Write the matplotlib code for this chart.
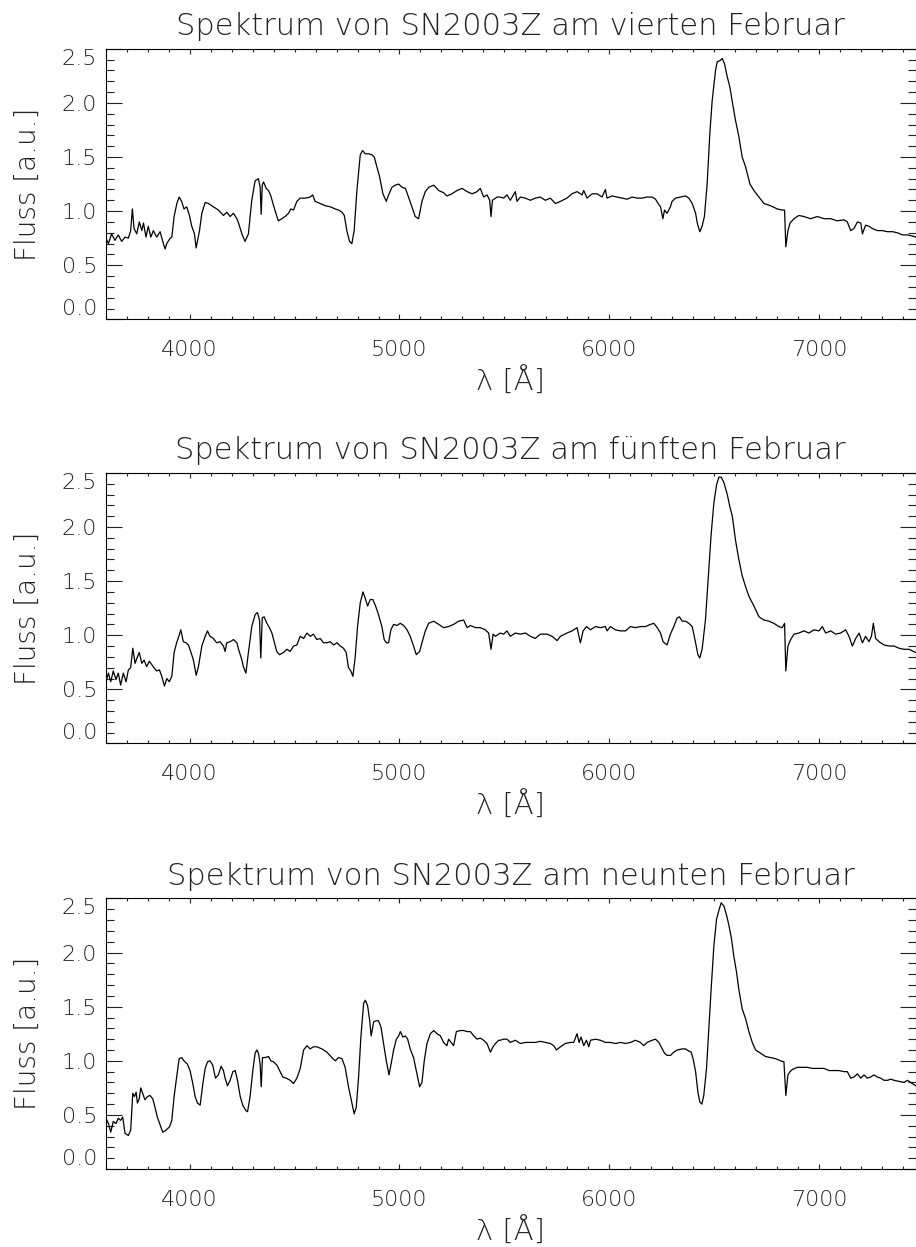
import matplotlib
matplotlib.use('Agg')
import matplotlib.pyplot as plt
from matplotlib.ticker import MultipleLocator, FixedLocator, FormatStrFormatter

plt.rcParams.update({'font.family': 'DejaVu Sans', 'font.size': 16,
                     'font.weight': 'light', 'axes.titleweight': 'light',
                     'axes.labelweight': 'light'})

# spectrum 4 Feb (wavelength in Angstrom, flux in a.u.)
wl_feb4 = [3601, 3613, 3628, 3644, 3660, 3676, 3692, 3708, 3719, 3727,
           3735, 3748, 3760, 3772, 3780, 3792, 3803, 3815, 3827, 3843,
           3859, 3872, 3883, 3891, 3907, 3915, 3926, 3939, 3950, 3962,
           3973, 3986, 3999, 4010, 4023, 4031, 4037, 4047, 4058, 4074,
           4090, 4113, 4137, 4161, 4177, 4193, 4209, 4225, 4233, 4249,
           4264, 4280, 4296, 4312, 4328, 4336, 4341, 4346, 4352, 4365,
           4376, 4387, 4400, 4416, 4423, 4439, 4455, 4471, 4482, 4495,
           4511, 4527, 4551, 4574, 4586, 4598, 4622, 4646, 4670, 4694,
           4710, 4726, 4737, 4749, 4762, 4773, 4784, 4797, 4813, 4824,
           4837, 4853, 4869, 4880, 4892, 4905, 4921, 4937, 4948, 4964,
           4980, 4996, 5012, 5028, 5043, 5059, 5075, 5091, 5107, 5123,
           5139, 5163, 5187, 5210, 5226, 5250, 5274, 5298, 5322, 5346,
           5370, 5385, 5401, 5417, 5430, 5436, 5443, 5465,
           5480, 5496, 5512, 5528, 5552, 5560, 5576, 5600, 5624, 5647,
           5671, 5695, 5719, 5743, 5767, 5798, 5822, 5846, 5870, 5878,
           5894, 5918, 5942, 5965, 5981, 5989, 6013, 6037, 6061, 6085,
           6108, 6132, 6156, 6180, 6204, 6220, 6236, 6244, 6255, 6263,
           6275, 6291, 6299, 6315, 6339, 6363, 6379, 6395, 6411, 6419,
           6431, 6442, 6453, 6466, 6479, 6490, 6506, 6514, 6527, 6538,
           6549, 6562, 6574, 6585, 6601, 6617, 6633, 6649, 6670, 6689,
           6713, 6737, 6768, 6800, 6824, 6835, 6841, 6851, 6861, 6880,
           6903, 6927, 6959, 6991, 7023, 7055, 7086, 7118, 7134, 7150,
           7166, 7182, 7198, 7206, 7221, 7237, 7253, 7277, 7301, 7325,
           7349, 7373, 7396, 7420, 7444, 7460]
fl_feb4 = [0.75, 0.70, 0.79, 0.73, 0.78, 0.72, 0.76, 0.75, 0.82, 1.02,
           0.84, 0.79, 0.90, 0.82, 0.89, 0.76, 0.86, 0.76, 0.82, 0.76,
           0.81, 0.72, 0.65, 0.70, 0.75, 0.76, 0.95, 1.07, 1.13, 1.09,
           1.02, 1.04, 0.96, 0.86, 0.79, 0.66, 0.72, 0.82, 0.98, 1.08,
           1.07, 1.04, 1.01, 0.96, 0.99, 0.95, 0.98, 0.93, 0.89, 0.79,
           0.72, 0.79, 1.10, 1.28, 1.30, 1.22, 0.97, 1.24, 1.27, 1.21,
           1.19, 1.14, 1.05, 0.95, 0.91, 0.93, 0.95, 0.98, 1.02, 1.01,
           1.09, 1.12, 1.12, 1.13, 1.15, 1.09, 1.07, 1.05, 1.04, 1.02,
           1.01, 0.99, 0.96, 0.82, 0.72, 0.70, 0.82, 1.19, 1.52, 1.56,
           1.53, 1.53, 1.52, 1.50, 1.41, 1.32, 1.16, 1.09, 1.15, 1.22,
           1.24, 1.25, 1.22, 1.21, 1.13, 1.04, 0.95, 0.93, 1.09, 1.18,
           1.22, 1.24, 1.19, 1.17, 1.14, 1.16, 1.19, 1.21, 1.18, 1.16,
           1.18, 1.21, 1.13, 1.15, 1.10, 0.95, 1.10, 1.13,
           1.13, 1.12, 1.15, 1.10, 1.18, 1.09, 1.13, 1.12, 1.10, 1.12,
           1.13, 1.10, 1.12, 1.07, 1.09, 1.12, 1.16, 1.18, 1.15, 1.19,
           1.12, 1.16, 1.16, 1.13, 1.20, 1.12, 1.14, 1.13, 1.12, 1.11,
           1.13, 1.12, 1.12, 1.13, 1.13, 1.11, 1.06, 1.04, 0.93, 1.01,
           0.98, 1.04, 1.09, 1.12, 1.13, 1.14, 1.12, 1.07, 0.98, 0.89,
           0.81, 0.86, 0.95, 1.25, 1.72, 2.02, 2.30, 2.38, 2.39, 2.41,
           2.36, 2.24, 2.15, 2.02, 1.84, 1.69, 1.50, 1.41, 1.25, 1.19,
           1.13, 1.07, 1.05, 1.02, 1.01, 1.01, 0.67, 0.82, 0.89, 0.93,
           0.96, 0.95, 0.93, 0.95, 0.93, 0.93, 0.91, 0.92, 0.90, 0.82,
           0.84, 0.90, 0.89, 0.79, 0.87, 0.86, 0.84, 0.82, 0.82, 0.81,
           0.81, 0.80, 0.78, 0.78, 0.77, 0.76]

# spectrum 5 Feb
wl_feb5 = [3601, 3613, 3624, 3636, 3649, 3660, 3671, 3684, 3697, 3708,
           3719, 3729, 3740, 3751, 3760, 3772, 3783, 3795, 3808, 3819,
           3830, 3843, 3856, 3867, 3880, 3891, 3903, 3915, 3926, 3938,
           3950, 3958, 3970, 3983, 3994, 4005, 4018, 4031, 4042, 4058,
           4074, 4085, 4097, 4113, 4129, 4145, 4161, 4169, 4177, 4193,
           4209, 4225, 4233, 4249, 4256, 4268, 4280, 4296, 4312, 4323,
           4333, 4339, 4346, 4355, 4368, 4380, 4392, 4403, 4415, 4428,
           4447, 4463, 4479, 4495, 4511, 4527, 4543, 4559, 4575, 4590,
           4606, 4622, 4638, 4654, 4670, 4686, 4702, 4718, 4733, 4746,
           4757, 4768, 4778, 4789, 4800, 4813, 4826, 4837, 4848, 4861,
           4873, 4886, 4900, 4916, 4927, 4937, 4948, 4959, 4972, 4988,
           5004, 5020, 5036, 5051, 5067, 5080, 5096, 5107, 5123, 5139,
           5163, 5187, 5210, 5234, 5258, 5282, 5306, 5322, 5338, 5362,
           5385, 5409, 5425, 5436, 5446, 5457,
           5480, 5496, 5512, 5528, 5552, 5576, 5600, 5624, 5647, 5671,
           5703, 5727, 5751, 5767, 5798, 5822, 5846, 5862, 5875, 5891,
           5910, 5934, 5957, 5981, 5989, 6005, 6029, 6053, 6077, 6101,
           6124, 6148, 6172, 6196, 6212, 6228, 6244, 6256, 6275, 6291,
           6307, 6323, 6334, 6347, 6363, 6379, 6395, 6411, 6422, 6431,
           6442, 6458, 6474, 6485, 6498, 6511, 6522, 6533, 6546, 6562,
           6574, 6586, 6601, 6617, 6633, 6649, 6665, 6689, 6713, 6737,
           6760, 6784, 6808, 6824, 6835, 6841, 6851, 6864, 6880, 6903,
           6927, 6951, 6975, 6999, 7015, 7031, 7055, 7078, 7102, 7126,
           7142, 7158, 7174, 7190, 7206, 7221, 7237, 7249, 7258, 7269,
           7285, 7309, 7333, 7357, 7380, 7404, 7428, 7460]
fl_feb5 = [0.57, 0.65, 0.57, 0.67, 0.59, 0.65, 0.54, 0.65, 0.57, 0.68,
           0.70, 0.88, 0.74, 0.80, 0.84, 0.74, 0.77, 0.71, 0.76, 0.73,
           0.70, 0.67, 0.68, 0.62, 0.53, 0.60, 0.57, 0.62, 0.84, 0.93,
           1.00, 1.05, 0.94, 0.93, 0.91, 0.85, 0.77, 0.63, 0.71, 0.90,
           0.99, 1.04, 0.99, 0.97, 0.93, 0.94, 0.90, 0.85, 0.93, 0.94,
           0.96, 0.93, 0.87, 0.77, 0.71, 0.65, 0.84, 1.08, 1.19, 1.21,
           1.14, 0.79, 1.16, 1.17, 1.11, 1.07, 1.02, 0.94, 0.85, 0.82,
           0.84, 0.87, 0.85, 0.90, 0.91, 0.99, 0.97, 1.02, 0.99, 1.01,
           0.96, 0.97, 0.93, 0.93, 0.94, 0.91, 0.93, 0.90, 0.88, 0.84,
           0.70, 0.67, 0.62, 0.80, 1.08, 1.30, 1.40, 1.34, 1.27, 1.33,
           1.33, 1.27, 1.19, 1.08, 0.96, 0.93, 0.93, 1.05, 1.10, 1.09,
           1.11, 1.09, 1.05, 0.99, 0.90, 0.82, 0.85, 0.93, 1.04, 1.11,
           1.13, 1.10, 1.07, 1.08, 1.10, 1.13, 1.14, 1.07, 1.09, 1.07,
           1.07, 1.05, 1.02, 0.87, 1.01, 0.99,
           1.02, 1.01, 1.04, 0.99, 1.02, 1.01, 1.02, 0.99, 0.97, 1.01,
           1.01, 0.99, 0.95, 0.99, 1.02, 1.04, 1.07, 0.93, 1.04, 1.08,
           1.05, 1.08, 1.07, 1.08, 1.04, 1.08, 1.05, 1.04, 1.04, 1.08,
           1.07, 1.08, 1.08, 1.10, 1.11, 1.07, 1.02, 0.94, 0.91, 1.01,
           1.08, 1.16, 1.17, 1.13, 1.13, 1.11, 1.08, 0.93, 0.82, 0.79,
           0.87, 1.14, 1.61, 1.93, 2.22, 2.39, 2.46, 2.46, 2.41, 2.30,
           2.19, 2.10, 1.88, 1.70, 1.55, 1.45, 1.36, 1.27, 1.17, 1.14,
           1.13, 1.11, 1.08, 1.07, 1.11, 0.67, 0.90, 0.96, 1.01, 1.02,
           1.04, 1.02, 1.05, 1.04, 1.08, 1.02, 1.04, 1.01, 1.02, 1.05,
           0.99, 0.90, 0.97, 1.02, 0.93, 0.99, 0.94, 0.99, 1.11, 0.97,
           0.94, 0.91, 0.90, 0.90, 0.88, 0.87, 0.87, 0.84]

# spectrum 9 Feb
wl_feb9 = [3601, 3613, 3624, 3636, 3649, 3660, 3671, 3681, 3692, 3708,
           3719, 3729, 3737, 3745, 3751, 3760, 3767, 3776, 3787, 3799,
           3811, 3824, 3835, 3846, 3859, 3872, 3888, 3904, 3915, 3926,
           3938, 3950, 3962, 3973, 3989, 4002, 4015, 4026, 4037, 4050,
           4063, 4074, 4085, 4097, 4110, 4123, 4137, 4150, 4161, 4169,
           4180, 4193, 4206, 4217, 4228, 4241, 4253, 4268, 4276, 4288,
           4301, 4312, 4320, 4328, 4336, 4341, 4347, 4360, 4376, 4387,
           4400, 4416, 4431, 4444, 4460, 4479, 4495, 4511, 4527, 4543,
           4559, 4574, 4590, 4606, 4630, 4654, 4678, 4694, 4710, 4726,
           4741, 4757, 4773, 4784, 4794, 4805, 4816, 4829, 4837, 4848,
           4858, 4865, 4877, 4889, 4900, 4912, 4924, 4937, 4950, 4959,
           4972, 4985, 4996, 5004, 5016, 5028, 5039, 5051, 5067, 5083,
           5096, 5107, 5118, 5131, 5147, 5163, 5179, 5195, 5210, 5226,
           5234, 5250, 5258, 5271, 5290, 5306, 5322, 5338, 5354, 5370,
           5385, 5401, 5417, 5433, 5446, 5457, 5473,
           5480, 5496, 5512, 5528, 5552, 5576, 5600, 5624, 5647, 5671,
           5695, 5719, 5735, 5748, 5767, 5790, 5814, 5830, 5846, 5856,
           5865, 5878, 5891, 5902, 5910, 5934, 5957, 5981, 6005, 6029,
           6053, 6077, 6101, 6124, 6148, 6164, 6180, 6204, 6220, 6236,
           6252, 6263, 6275, 6291, 6307, 6323, 6347, 6363, 6379, 6390,
           6399, 6411, 6422, 6431, 6441, 6450, 6463, 6474, 6485, 6498,
           6511, 6522, 6533, 6546, 6558, 6570, 6581, 6593, 6606, 6617,
           6633, 6649, 6665, 6681, 6697, 6721, 6744, 6768, 6792, 6816,
           6832, 6841, 6851, 6861, 6872, 6896, 6919, 6943, 6967, 6991,
           7023, 7047, 7070, 7094, 7118, 7134, 7150, 7166, 7182, 7198,
           7214, 7229, 7245, 7261, 7277, 7293, 7309, 7325, 7341, 7357,
           7380, 7404, 7420, 7444, 7460]
fl_feb9 = [0.47, 0.42, 0.34, 0.44, 0.42, 0.47, 0.45, 0.48, 0.33, 0.31,
           0.36, 0.70, 0.67, 0.71, 0.61, 0.65, 0.75, 0.70, 0.64, 0.67,
           0.68, 0.65, 0.57, 0.48, 0.41, 0.34, 0.36, 0.39, 0.45, 0.67,
           0.85, 1.02, 1.03, 1.00, 0.97, 0.91, 0.79, 0.67, 0.61, 0.59,
           0.79, 0.93, 0.99, 1.00, 0.96, 0.84, 0.87, 0.95, 0.91, 0.84,
           0.77, 0.82, 0.90, 0.91, 0.82, 0.67, 0.59, 0.54, 0.53, 0.67,
           0.91, 1.07, 1.10, 1.07, 0.97, 0.76, 1.03, 1.03, 1.04, 1.00,
           0.99, 0.96, 0.90, 0.85, 0.84, 0.82, 0.79, 0.84, 0.93, 1.10,
           1.14, 1.11, 1.13, 1.13, 1.11, 1.08, 1.03, 1.00, 1.03, 1.02,
           0.94, 0.76, 0.61, 0.51, 0.57, 0.85, 1.22, 1.53, 1.56, 1.51,
           1.37, 1.23, 1.36, 1.37, 1.37, 1.31, 1.16, 1.00, 0.87, 0.96,
           1.10, 1.20, 1.23, 1.27, 1.22, 1.23, 1.20, 1.11, 1.03, 0.88,
           0.76, 0.80, 1.00, 1.16, 1.25, 1.28, 1.25, 1.23, 1.17, 1.14,
           1.20, 1.16, 1.14, 1.27, 1.28, 1.28, 1.27, 1.27, 1.23, 1.20,
           1.21, 1.19, 1.16, 1.08, 1.13, 1.16, 1.19,
           1.19, 1.20, 1.20, 1.17, 1.19, 1.16, 1.17, 1.17, 1.17, 1.18,
           1.17, 1.16, 1.14, 1.10, 1.13, 1.16, 1.17, 1.17, 1.25, 1.17,
           1.22, 1.14, 1.19, 1.13, 1.19, 1.20, 1.19, 1.17, 1.17, 1.16,
           1.17, 1.16, 1.17, 1.19, 1.17, 1.14, 1.17, 1.19, 1.20, 1.17,
           1.11, 1.07, 1.05, 1.05, 1.08, 1.10, 1.11, 1.11, 1.09, 1.08,
           1.02, 0.90, 0.71, 0.62, 0.60, 0.68, 0.93, 1.30, 1.66, 2.06,
           2.31, 2.39, 2.46, 2.43, 2.35, 2.25, 2.14, 1.97, 1.82, 1.66,
           1.48, 1.39, 1.27, 1.17, 1.10, 1.07, 1.04, 1.03, 1.02, 1.00,
           0.99, 0.68, 0.87, 0.90, 0.92, 0.94, 0.94, 0.94, 0.93, 0.93,
           0.93, 0.91, 0.91, 0.91, 0.90, 0.90, 0.84, 0.85, 0.88, 0.84,
           0.87, 0.84, 0.85, 0.87, 0.85, 0.84, 0.82, 0.82, 0.83, 0.82,
           0.81, 0.80, 0.82, 0.79, 0.77]

titles = ['Spektrum von SN2003Z am vierten Februar',
          'Spektrum von SN2003Z am fünften Februar',
          'Spektrum von SN2003Z am neunten Februar']
yticks = [0.0, 0.5, 1.0, 1.5, 2.0, 2.5]

fig = plt.figure(figsize=(9.16, 12.47), dpi=100)
bottoms = [0.7439, 0.4038, 0.0625]
spectra = [(wl_feb4, fl_feb4), (wl_feb5, fl_feb5), (wl_feb9, fl_feb9)]

for b, (wl, fl), title in zip(bottoms, spectra, titles):
    ax = fig.add_axes([0.1154, b, 0.8843, 0.2170])
    ax.plot(wl, fl, color='k', lw=0.9)
    ax.set_xlim(3600, 7460)
    ax.set_ylim(0, 2.5)
    ax.xaxis.set_major_locator(MultipleLocator(1000))
    ax.xaxis.set_minor_locator(MultipleLocator(100))
    ax.yaxis.set_major_locator(FixedLocator(yticks))
    ax.yaxis.set_minor_locator(MultipleLocator(0.1))
    ax.yaxis.set_major_formatter(FormatStrFormatter('%.1f'))
    ax.tick_params(which='both', direction='in', top=True, right=True,
                   width=0.8, colors='#222222')
    ax.tick_params(axis='y', which='major', length=11.5, pad=6)
    ax.tick_params(axis='y', which='minor', length=5.8)
    ax.tick_params(axis='x', which='major', length=3.9, pad=15)
    ax.tick_params(axis='x', which='minor', length=2)
    for s in ax.spines.values():
        s.set_linewidth(0.8)
    # end labels pushed inside the frame like the original
    yt = ax.yaxis.get_major_ticks()
    yt[0].label1.set_va('bottom')
    yt[-1].label1.set_va('top')
    ax.set_title(title, fontsize=22, pad=10, color='#222222')
    ax.set_ylabel('Fluss [a.u.]', fontsize=20, color='#222222')
    ax.yaxis.set_label_coords(-0.079, 0.5)
    ax.set_xlabel('λ [Å]', fontsize=21, color='#222222')
    ax.xaxis.set_label_coords(0.5, -0.18)

fig.savefig('out.png', dpi=100)
